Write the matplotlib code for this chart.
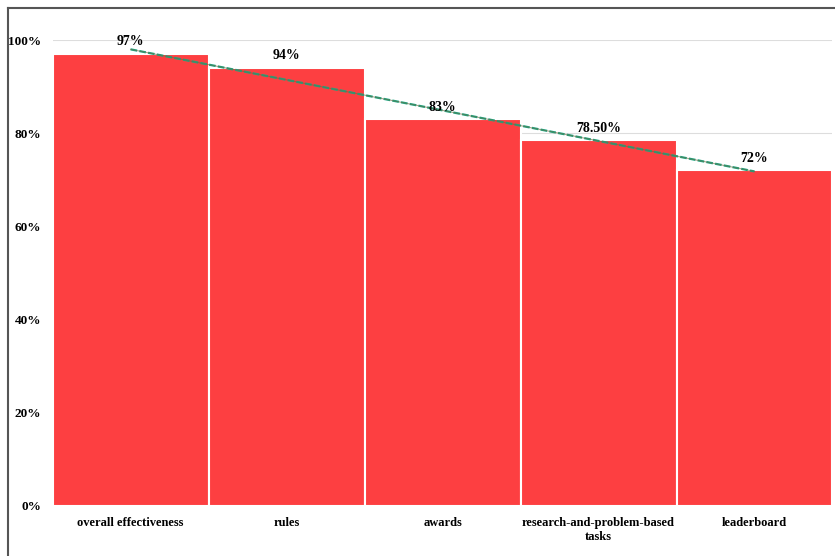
import matplotlib.pyplot as plt
import numpy as np
from matplotlib.ticker import FuncFormatter

# ====== data ======
categories = ["overall effectiveness", "rules", "awards",
              "research-and-problem-based\ntasks", "leaderboard"]
values = [97, 94, 83, 78.5, 72]
value_labels = ["97%", "94%", "83%", "78.50%", "72%"]

plt.rcParams['font.family'] = ['Liberation Serif', 'DejaVu Serif']
plt.rcParams['font.weight'] = 'bold'

fig = plt.figure(figsize=(8.35, 5.56), dpi=100)
ax = fig.add_axes([0.063, 0.09, 0.934, 0.838])

x = np.arange(len(categories))
ax.bar(x, values, width=1.0, color='#fd3f41', edgecolor='white', linewidth=1.5, zorder=2)

# value labels above bars
for xi, v, lab in zip(x, values, value_labels):
    ax.annotate(lab, (xi, v), xytext=(0, 4), textcoords='offset points',
                ha='center', va='bottom', fontsize=10, fontweight='bold', zorder=4)

# linear trend line
coef = np.polyfit(x, values, 1)
ax.plot(x[[0, -1]], np.polyval(coef, x[[0, -1]]), color='#1aa884',
        linestyle=(0, (3, 1)), linewidth=1.6, zorder=3)
ax.plot(x[[0, -1]], np.polyval(coef, x[[0, -1]]), color='#6b6b45',
        linewidth=0.8, alpha=0.6, zorder=3)

ax.set_xlim(-0.5, 4.5)
ax.set_ylim(0, 100)
ax.set_yticks(range(0, 101, 20))
ax.yaxis.set_major_formatter(FuncFormatter(lambda v, p: f"{int(v)}%"))
ax.set_xticks(x)
ax.set_xticklabels(categories, fontsize=9, fontweight='bold')
ax.tick_params(axis='y', labelsize=9.5, length=0, pad=8)
ax.tick_params(axis='x', length=0, pad=8)
ax.grid(axis='y', color='#dddddd', linewidth=0.8, zorder=0)
ax.set_axisbelow(True)
for s in ax.spines.values():
    s.set_visible(False)

# outer frame on the left and top
fig.add_artist(plt.Line2D([0.009, 0.009], [0, 0.986], transform=fig.transFigure,
                          color='#555555', linewidth=1.5))
fig.add_artist(plt.Line2D([0.009, 1.0], [0.986, 0.986], transform=fig.transFigure,
                          color='#555555', linewidth=1.5))

fig.savefig("out.png", dpi=100)
